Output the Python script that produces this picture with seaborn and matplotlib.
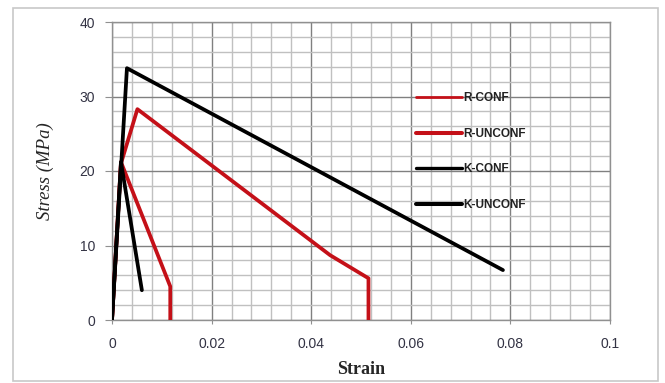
import matplotlib
matplotlib.use("Agg")
import matplotlib.pyplot as plt
import seaborn as sns
import pandas as pd
import numpy as np
from matplotlib.patches import Rectangle
from matplotlib.ticker import MultipleLocator

# ---- data ----
r_conf_strain = [0.0, 0.0018, 0.0051, 0.0438, 0.0515, 0.0515]
r_conf_stress = [0.0, 21.0, 28.3, 8.7, 5.6, 0.0]
r_unconf_strain = [0.0, 0.0018, 0.0117, 0.0117]
r_unconf_stress = [0.0, 21.2, 4.5, 0.0]
k_conf_strain = [0.0, 0.0030, 0.0785]
k_conf_stress = [0.0, 33.8, 6.7]
k_unconf_strain = [0.0, 0.0018, 0.0060]
k_unconf_stress = [0.0, 21.2, 4.0]
series_names = ["R-CONF", "R-UNCONF", "K-CONF", "K-UNCONF"]
x_ticks = [0, 0.02, 0.04, 0.06, 0.08, 0.1]
x_tick_labels = ["0", "0.02", "0.04", "0.06", "0.08", "0.1"]
y_ticks = [0, 10, 20, 30, 40]

frames = []
for name, xs, ys in zip(series_names,
                        [r_conf_strain, r_unconf_strain, k_conf_strain, k_unconf_strain],
                        [r_conf_stress, r_unconf_stress, k_conf_stress, k_unconf_stress]):
    frames.append(pd.DataFrame({"Strain": xs, "Stress": ys, "Series": name,
                                "order": np.arange(len(xs))}))
df = pd.concat(frames, ignore_index=True)

RED = "#c41018"
BLACK = "#000000"
palette = {"R-CONF": RED, "R-UNCONF": RED, "K-CONF": BLACK, "K-UNCONF": BLACK}

sns.set_style("white")
plt.rcParams["font.family"] = ["Liberation Sans", "DejaVu Sans"]

fig = plt.figure(figsize=(6.65, 3.83), dpi=100)
ax = fig.add_axes([112/665, 63/383, 498/665, 298/383])

# outer border of the figure
fig.patches.append(Rectangle((13/665, 2/383), 645/665, 373/383, transform=fig.transFigure,
                             fill=False, edgecolor="#c8c8c8", linewidth=1.2, zorder=0))

sns.lineplot(data=df, x="Strain", y="Stress", hue="Series", units="Series",
             estimator=None, sort=False, palette=palette, linewidth=2.7,
             hue_order=series_names, legend=True, ax=ax, zorder=5)

ax.set_xlim(0, 0.1)
ax.set_ylim(0, 40)
ax.set_xticks(x_ticks)
ax.set_xticklabels(x_tick_labels)
ax.set_yticks(y_ticks)
ax.xaxis.set_minor_locator(MultipleLocator(0.004))
ax.yaxis.set_minor_locator(MultipleLocator(2))
ax.grid(True, which="major", color="#808080", linewidth=1.0)
ax.grid(True, which="minor", color="#c0c0c0", linewidth=1.0)
ax.set_axisbelow(True)
for s in ax.spines.values():
    s.set_color("#909090")
    s.set_linewidth(1.0)

ax.tick_params(axis="y", which="major", length=5, color="#909090", pad=7,
               labelsize=10, labelcolor="#333344", left=True)
ax.tick_params(axis="x", which="major", length=3, color="#909090", pad=9,
               labelsize=10, labelcolor="#333344", bottom=True)
ax.tick_params(which="minor", length=0)

ax.set_xlabel("Strain", fontsize=13, fontweight="bold", family="Liberation Serif")
ax.set_ylabel("Stress (MPa)", fontsize=13.5, fontstyle="italic", family="Liberation Serif")
ax.xaxis.set_label_coords(0.5, -0.165)
ax.xaxis.label.set_va("center")
ax.yaxis.set_label_coords(-0.134, 0.5)
ax.yaxis.label.set_va("center")

handles, labels = ax.get_legend_handles_labels()
widths = {"R-CONF": 2.0, "R-UNCONF": 2.9, "K-CONF": 2.4, "K-UNCONF": 2.9}
for h, l in zip(handles, labels):
    h.set_linewidth(widths.get(l, 2.4))
leg = ax.legend(handles, labels, loc="upper left", bbox_to_anchor=(0.61, 0.765),
                frameon=False, prop={"weight": "bold", "size": 8.5},
                handlelength=3.9, handletextpad=0.1, labelspacing=2.0,
                borderpad=0, borderaxespad=0)
for t in leg.get_texts():
    t.set_color("#222222")

fig.savefig("out.png", dpi=100)
